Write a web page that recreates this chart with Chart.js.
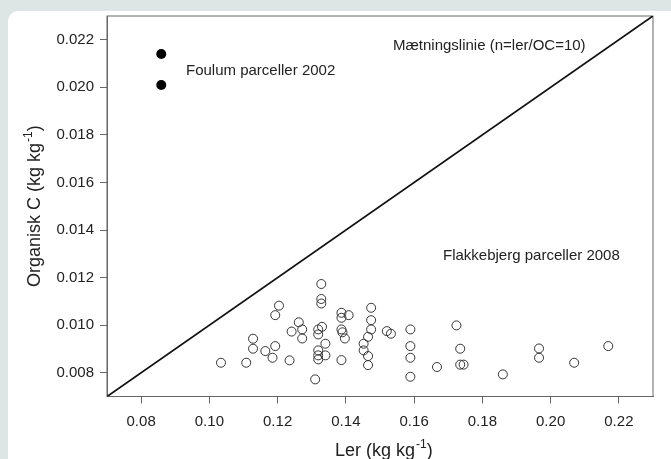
<!DOCTYPE html>
<html>
<head>
<meta charset="utf-8">
<script src="https://cdn.jsdelivr.net/npm/chart.js@4.4.1/dist/chart.umd.min.js"></script>
<style>
  html, body { margin: 0; padding: 0; background: #dde6e4; overflow: hidden; }
  .card { position: absolute; left: 8px; top: 11px; width: 700px; height: 480px; background: #fff; border-radius: 10px; }
  .wrap { position: absolute; left: 0; top: 0; width: 671px; height: 459px; }
</style>
</head>
<body>
<div class="card"></div>
<div class="wrap"><canvas id="c"></canvas></div>
<script>
// Flakkebjerg parceller 2008 (open circles)
const flakX = [0.1034, 0.1108, 0.1128, 0.1128, 0.1164, 0.1185, 0.1193, 0.1193, 0.1204, 0.1235,
  0.1241, 0.1262, 0.1272, 0.1272, 0.1310, 0.1319, 0.1319, 0.1330, 0.1328, 0.1328,
  0.1328, 0.1340, 0.1319, 0.1319, 0.1319, 0.1340, 0.1387, 0.1387, 0.1408, 0.1387,
  0.1390, 0.1397, 0.1387, 0.1474, 0.1474, 0.1474, 0.1465, 0.1452, 0.1452, 0.1465,
  0.1465, 0.1520, 0.1532, 0.1589, 0.1589, 0.1589, 0.1589, 0.1667, 0.1724, 0.1735,
  0.1735, 0.1745, 0.1860, 0.1966, 0.1966, 0.2069, 0.2169];
const flakY = [0.00842, 0.00842, 0.00943, 0.00901, 0.00891, 0.00863, 0.00912, 0.01042, 0.01082, 0.00852,
  0.00973, 0.01012, 0.00982, 0.00944, 0.00772, 0.00982, 0.00961, 0.00993, 0.01173, 0.01110,
  0.01091, 0.00922, 0.00894, 0.00873, 0.00856, 0.00873, 0.01052, 0.01031, 0.01042, 0.00982,
  0.00970, 0.00944, 0.00853, 0.01073, 0.01021, 0.00982, 0.00951, 0.00922, 0.00894, 0.00870,
  0.00832, 0.00975, 0.00964, 0.00982, 0.00912, 0.00863, 0.00783, 0.00824, 0.00999, 0.00901,
  0.00834, 0.00834, 0.00793, 0.00902, 0.00863, 0.00842, 0.00912];

// Foulum parceller 2002 (filled)
const foulumX = [0.0859, 0.0859];
const foulumY = [0.0214, 0.0201];

// Mætningslinie n = ler/OC = 10, end points
const satX = [0.07, 0.23];
const satY = [0.007, 0.023];

const xTicks = [0.08, 0.10, 0.12, 0.14, 0.16, 0.18, 0.20, 0.22];
const yTicks = [0.008, 0.010, 0.012, 0.014, 0.016, 0.018, 0.020, 0.022];

const FONT = "'Liberation Sans', Arial, sans-serif";
const INK = '#222';
const AXIS = '#666';

const toPts = (xs, ys) => xs.map((x, i) => ({ x, y: ys[i] }));

// draws "main" + superscript + "tail" starting at current origin
function supText(ctx, main, sup, tail, size) {
  ctx.font = size + 'px ' + FONT;
  ctx.fillText(main, 0, 0);
  let w = ctx.measureText(main).width;
  ctx.font = Math.round(size * 0.65) + 'px ' + FONT;
  ctx.fillText(sup, w + 1, -size * 0.42);
  w += ctx.measureText(sup).width + 1;
  ctx.font = size + 'px ' + FONT;
  ctx.fillText(tail, w, 0);
}

const decor = {
  id: 'decor',
  beforeDatasetsDraw(chart) {
    const { ctx, chartArea: a } = chart;
    ctx.save();
    ctx.strokeStyle = AXIS;
    ctx.lineWidth = 1;
    ctx.strokeRect(a.left, a.top, a.right - a.left, a.bottom - a.top);
    ctx.restore();
  },
  afterDraw(chart) {
    const ctx = chart.ctx;
    ctx.save();
    ctx.fillStyle = INK;
    ctx.textBaseline = 'alphabetic';
    ctx.textAlign = 'left';
    ctx.font = '15px ' + FONT;
    ctx.fillText('Mætningslinie (n=ler/OC=10)', 393, 50);
    ctx.fillText('Foulum parceller 2002', 186, 75);
    ctx.fillText('Flakkebjerg parceller 2008', 443, 260);

    ctx.save();
    ctx.translate(335, 456);
    supText(ctx, 'Ler (kg kg', '-1', ')', 18);
    ctx.restore();

    ctx.save();
    ctx.translate(39.5, 287);
    ctx.rotate(-Math.PI / 2);
    supText(ctx, 'Organisk C (kg kg', '-1', ')', 18);
    ctx.restore();
    ctx.restore();
  }
};

new Chart(document.getElementById('c'), {
  type: 'scatter',
  data: {
    datasets: [
      {
        label: 'Mætningslinie',
        data: toPts(satX, satY),
        showLine: true,
        borderColor: '#111',
        borderWidth: 1.8,
        pointRadius: 0,
        fill: false
      },
      {
        label: 'Flakkebjerg parceller 2008',
        data: toPts(flakX, flakY),
        pointRadius: 4.5,
        pointBorderWidth: 1,
        borderColor: '#333',
        backgroundColor: 'rgba(255,255,255,0)'
      },
      {
        label: 'Foulum parceller 2002',
        data: toPts(foulumX, foulumY),
        pointRadius: 5,
        pointBorderWidth: 0,
        borderColor: '#000',
        backgroundColor: '#000'
      }
    ]
  },
  options: {
    responsive: true,
    maintainAspectRatio: false,
    animation: false,
    layout: { padding: { left: 0, top: 16, right: 18, bottom: 0 } },
    plugins: { legend: { display: false }, tooltip: { enabled: false } },
    scales: {
      x: {
        type: 'linear',
        min: 0.07,
        max: 0.23,
        afterBuildTicks: s => { s.ticks = xTicks.map(v => ({ value: v })); },
        afterFit: s => { s.height = 62.5; },
        ticks: {
          callback: v => v.toFixed(2),
          font: { size: 15, family: FONT },
          color: INK,
          padding: 9,
          maxRotation: 0,
          autoSkip: false
        },
        grid: { drawOnChartArea: false, drawTicks: true, tickLength: 7, color: AXIS },
        border: { display: true, color: AXIS, width: 1 }
      },
      y: {
        type: 'linear',
        min: 0.007,
        max: 0.023,
        afterBuildTicks: s => { s.ticks = yTicks.map(v => ({ value: v })); },
        afterFit: s => { s.width = 107; },
        ticks: {
          callback: v => v.toFixed(3),
          font: { size: 15, family: FONT },
          color: INK,
          padding: 6,
          autoSkip: false
        },
        grid: { drawOnChartArea: false, drawTicks: true, tickLength: 7, color: AXIS },
        border: { display: true, color: AXIS, width: 1 }
      }
    }
  },
  plugins: [decor]
});
</script>
</body>
</html>
